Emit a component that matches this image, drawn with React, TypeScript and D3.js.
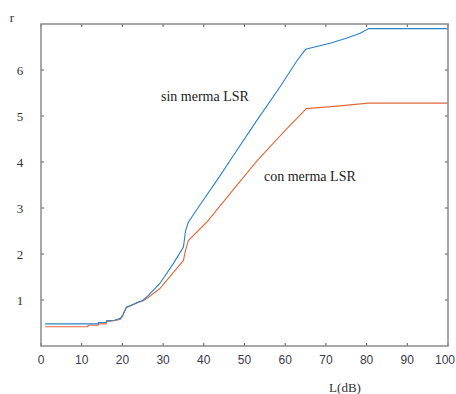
import React from "react";
import * as d3 from "d3";

const xTicks = [0, 10, 20, 30, 40, 50, 60, 70, 80, 90, 100];
const yTicks = [1, 2, 3, 4, 5, 6];

const sinX = [1, 14, 14.1, 16, 16.1, 18, 19.5, 20, 21, 22, 24, 25, 26.4, 29.2, 32.5, 35, 35.5, 36.2, 39, 43.6, 47.2, 53, 58.7, 62.8, 65, 71, 75, 78.4, 80.5, 100];
const sinY = [0.48, 0.48, 0.51, 0.51, 0.55, 0.56, 0.6, 0.66, 0.85, 0.88, 0.96, 0.99, 1.1, 1.36, 1.79, 2.15, 2.5, 2.69, 3.06, 3.65, 4.13, 4.9, 5.63, 6.19, 6.45, 6.58, 6.69, 6.8, 6.9, 6.9];

const conX = [1, 11.5, 11.6, 14, 14.1, 16, 16.1, 18, 19.5, 20, 21, 22, 24, 25, 26.4, 29.2, 32.9, 35, 35.4, 36.2, 40.7, 46.8, 53, 60, 65.2, 73.5, 80.4, 100];
const conY = [0.42, 0.42, 0.45, 0.45, 0.48, 0.48, 0.53, 0.55, 0.58, 0.64, 0.84, 0.87, 0.95, 0.98, 1.06, 1.25, 1.64, 1.86, 2.04, 2.29, 2.69, 3.35, 4.02, 4.69, 5.16, 5.22, 5.28, 5.28];

const W = 456;
const H = 394;
const L = 41, R = 448, T = 24, B = 346;

export default function App() {
  const x = d3.scaleLinear().domain([0, 100]).range([L, R]);
  const y = d3.scaleLinear().domain([0, 7]).range([B, T]);
  const line = d3.line<[number, number]>().x(d => x(d[0])).y(d => y(d[1]));
  const sinPts = sinX.map((v, i) => [v, sinY[i]] as [number, number]);
  const conPts = conX.map((v, i) => [v, conY[i]] as [number, number]);
  const axisColor = "#8a8a8a";
  const tl = 3;
  return (
    <svg width={W} height={H} style={{ position: "absolute", left: 0, top: 0, background: "#fff" }}>
      <rect x={0} y={0} width={W} height={H} fill="#fff" />
      <path d={line(conPts) || ""} fill="none" stroke="#e2683c" strokeWidth={1.1} />
      <path d={line(sinPts) || ""} fill="none" stroke="#2a82c8" strokeWidth={1.1} />
      {xTicks.map((t, i) => (
        <g key={"x" + t}>
          <line x1={x(t)} x2={x(t)} y1={B} y2={B - tl} stroke="#555" strokeWidth={1} />
          <line x1={x(t)} x2={x(t)} y1={T} y2={T + tl} stroke="#555" strokeWidth={1} />
          <text x={x(t) + (i === xTicks.length - 1 ? -3 : 0)} y={364} textAnchor="middle" fontFamily="Liberation Sans, Arial, sans-serif" fontSize={12} fill="#3a3a4a">{t}</text>
        </g>
      ))}
      {yTicks.map(t => (
        <g key={"y" + t}>
          <line x1={L} x2={L + tl} y1={y(t)} y2={y(t)} stroke="#555" strokeWidth={1} />
          <line x1={R} x2={R - tl} y1={y(t)} y2={y(t)} stroke="#555" strokeWidth={1} />
          <text x={20} y={y(t) + 4.5} textAnchor="middle" fontFamily="Liberation Serif, Times New Roman, serif" fontSize={13} fill="#333">{t}</text>
        </g>
      ))}
      <rect x={L} y={T} width={R - L} height={B - T} fill="none" stroke={axisColor} strokeWidth={1.5} />
      <text x={12} y={22} textAnchor="middle" fontFamily="Liberation Serif, Times New Roman, serif" fontSize={13} fill="#333">r</text>
      <text x={345} y={392} textAnchor="middle" fontFamily="Liberation Serif, Times New Roman, serif" fontSize={13} fill="#333">L(dB)</text>
      <text x={161} y={101} fontFamily="Liberation Serif, Times New Roman, serif" fontSize={14} fill="#222">sin merma LSR</text>
      <text x={264} y={181} fontFamily="Liberation Serif, Times New Roman, serif" fontSize={14} fill="#222">con merma LSR</text>
    </svg>
  );
}
